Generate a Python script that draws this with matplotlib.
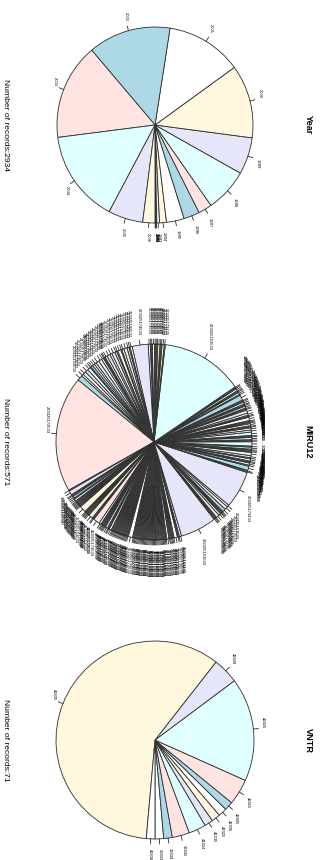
from matplotlib import pyplot as plt
import numpy as np

plt.rcParams['font.family'] = ['Liberation Sans', 'DejaVu Sans']

# colores por defecto de pie() en R
colores = ['#FFFFFF', '#ADD8E6', '#FFE4E1', '#E0FFFF', '#E6E6FA', '#FFF8DC']

anios = ['1989', '1990', '1991', '1992', '1993', '1994', '1995', '1996', '1997',
         '1998', '1999', '2000', '2001', '2002', '2003', '2004', '2005', '2006']
anios_n = [2, 1, 2, 3, 14, 33, 86, 77, 66, 210, 178, 355, 368, 400, 465, 447, 168, 59]

miru = """
122325153533 123325153533 124325153533 132325153533 142325153533 212325153533 213325153533 214325153533 221225153533 221325153533
221325173533 221425153533 222225153533 222315153533 222324153533 222325113533 222325123533 222325133533 222325143533 222325152533
222325153333 222325153433 222325153533 222325153633 222325163533 222325173333 222325173433 222325173533 222325183533 222326153533
222326173533 222335153533 222335173533 222425153533 223325173433 222525153533 223115153533 223125153533 223215153533 223225133533
223225153533 223225173533 223315153533 223322153533 223323153533 223324153533 223325112533 223325113533 223325123533 223325133333
223325133433 223325133533 223325134533 223325143433 223325143533 223325144533 223325152533 223325153133 223325153233 223325153333
223325153423 223325153424 223325153431 223325153432 223325153433 223325153434 223325153435 223325153513 223325153522 223325153523
223325153524 223325153525 223325153531 223325153532 223325173434 223325153534 223325153535 223325153543 223325153633 223325154533
223325163533 223325172533 223325173233 223325173333 223325173423 223325173432 222425173533 223325153533 223325173435 223325173443
223325173523 223325173524 223325173525 223325173531 223325173532 253325173533 223325173534 223325173535 223325173543 223325173633
223325174533 223325183533 223325193533 223325253533 223325273533 223326153533 223326173533 223335153533 223335173533 223425153533
223425173533 223525153533 223525173533 224325153533 224325173533 225325153533 225325173533 232325153533 232325173533 233325153533
233325173533 242325153533 242325173533 243325153533 243325173533 252325153533 252325173533 253325153533 223325173533 322325153533
322325173533 323325153533 323325173533 324325153533 324325173533 332325153533 332325173533 333325153533 333325173533 342325153533
342325173533 343325153533 343325173533 352325153533 352325173533 353325153533 353325173533 422325153533 422325173533 423325153533
423325173533 424325153533 424325173533 432325153533 432325173533 433325153533 433325173533 442325153533 442325173533 443325153533
443325173533 452325153533 452325173533 453325153533 453325173533 522325153533 522325173533 523325153533 523325173533 524325153533
524325173533 532325153533 532325173533 533325153533 533325173533 542325153533 542325173533 543325153533 543325173533 552325153533
552325173533 553325153533 553325173533 622325153533 622325173533 623325153533 623325173533 632325153533 632325173533 633325153533
633325173533 642325153533 642325173533 643325153533 643325173533 652325153533 652325173533 653325153533 653325173533 722325153533
722325173533
""".split()
miru_n = [1, 1, 1, 1, 1, 1, 1, 1, 1, 1, 1, 1, 2, 1, 1, 1, 1, 1, 3, 1, 1, 2,
          34,
          1, 1, 1, 3, 2, 1, 1, 1, 3, 3, 2,
          35,
          1, 1, 4, 1, 2, 1, 1, 2, 1, 2, 3, 1, 1, 1, 2, 1, 4, 1, 1, 2, 1, 1, 3, 2,
          2, 1, 1, 2, 1, 1, 1, 3, 1, 1, 2, 3, 1, 1, 2, 1, 1, 2, 1, 1, 5, 1, 2, 1,
          1, 2, 1, 1,
          78,
          1, 2, 1, 1, 2, 1, 1, 1, 2, 1, 1, 2,
          15,
          2, 1, 2, 3, 2, 1, 3, 1, 2, 3, 2, 3, 2, 1, 1, 2, 3, 3, 2, 2, 2, 1, 3, 3,
          3, 2, 5,
          109,
          1, 4, 1, 1, 2, 1, 2, 1, 1, 1, 1, 1, 1, 1, 6, 1, 1, 1, 1, 1, 4, 1, 1, 6,
          2, 1, 1, 1, 1, 1, 2, 1, 1, 2, 1, 1, 1, 1, 1, 1, 1, 1, 1, 1, 1, 1, 1, 1,
          1, 1, 1, 4, 1, 1, 1, 1, 1, 1, 1, 1, 1, 1, 1, 1, 1, 1, 1, 1, 1, 1, 1, 1]

vntr = ['22433', '32434', '32435', '41424', '42235', '42325', '42336',
        '42405', '42415', '42425', '42428', '42435', '42436']
vntr_n = [1, 1, 2, 2, 1, 1, 1, 1, 3, 12, 3, 42, 1]

W, H = 324, 860
fig = plt.figure(figsize=(W / 100, H / 100), dpi=100)


def ejes(cx, cy, lado=313.6):
    # eje cuadrado centrado en (cx, cy) pixeles, medido desde arriba
    return fig.add_axes([(cx - lado / 2) / W, (H - cy - lado / 2) / H,
                         lado / W, lado / H])


def torta(ax, n, etiquetas, radio=1.0):
    ax.pie(n, colors=colores, startangle=-90, counterclock=True, radius=radio,
           wedgeprops=dict(edgecolor='#2e2e2e', linewidth=0.6))
    ax.set_xlim(-1.6, 1.6)
    ax.set_ylim(-1.6, 1.6)
    ax.axis('off')
    n = np.asarray(n, dtype=float)
    medio = (np.cumsum(n) - n / 2) / n.sum()
    ang = np.deg2rad(-90 + 360 * medio)
    for a, et in zip(ang, etiquetas):
        x, y = np.cos(a), np.sin(a)
        ax.plot([radio * x, 1.05 * radio * x], [radio * y, 1.05 * radio * y],
                color='#2e2e2e', lw=0.6)
        ax.text(1.1 * radio * x, 1.1 * radio * y, et, fontsize=3,
                rotation=270, rotation_mode='anchor',
                ha='left' if y <= 0 else 'right', va='center')


torta(ejes(155, 125), anios_n, anios)
torta(ejes(154, 442), miru_n, miru)
torta(ejes(155, 740), vntr_n, vntr, radio=1.01)

for nombre, datos, cy in [('Year', anios_n, 125), ('MIRU12', miru_n, 442),
                          ('VNTR', vntr_n, 740)]:
    fig.text(308 / W, 1 - cy / H, nombre, rotation=270, fontsize=6.6,
             fontweight='bold', ha='center', va='center')
    fig.text(5.5 / W, 1 - cy / H, 'Number of records:%d' % sum(datos),
             rotation=270, fontsize=6.1, ha='center', va='center')

fig.savefig('out.png', dpi=100)
